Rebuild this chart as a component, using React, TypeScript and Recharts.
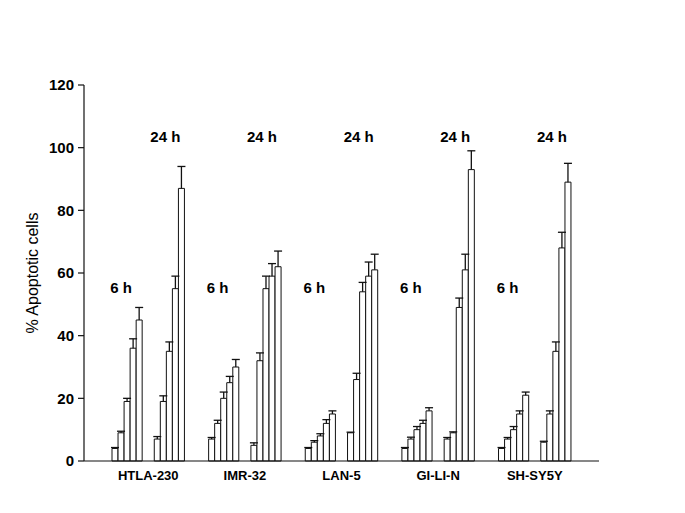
import { BarChart, Bar, XAxis, YAxis, ReferenceDot } from 'recharts';

const cellLines = ['HTLA-230', 'IMR-32', 'LAN-5', 'GI-LI-N', 'SH-SY5Y'];

// % apoptotic cells, 5 doses per time point
const apoptosis6h = [
  [4, 9, 19, 36, 45],
  [7, 12, 20, 25, 30],
  [4, 6, 8, 12, 15],
  [4, 7, 10, 12, 16],
  [4, 7, 10, 15, 21],
];
const sem6h = [
  [0.3, 0.5, 1, 3, 4],
  [0.5, 1, 2, 2, 2.4],
  [0.3, 0.5, 0.7, 1.2, 1],
  [0.3, 0.6, 1, 1, 1],
  [0.3, 0.5, 1, 1, 1],
];
const apoptosis24h = [
  [7, 19, 35, 55, 87],
  [5, 32, 55, 59, 62],
  [9, 26, 54, 59, 61],
  [7, 9, 49, 61, 93],
  [6, 15, 35, 68, 89],
];
const sem24h = [
  [0.8, 1.8, 3, 4, 7],
  [0.8, 2.5, 4, 4, 5],
  [0.2, 2, 3, 4.5, 5],
  [0.5, 0.3, 3, 5, 6],
  [0.3, 1, 3, 5, 6],
];

const yTicks = [0, 20, 40, 60, 80, 100, 120];
const label6h = '6 h';
const label24h = '24 h';

const GROUP_GAP = 2;
const LINE_GAP = 4;
const FONT = 'Liberation Sans, Arial, sans-serif';

type Slot = { slot: string; value?: number; err?: number };

const slots: Slot[] = [];
const tickLabels: Record<string, string> = {};
cellLines.forEach((line, i) => {
  apoptosis6h[i].forEach((v, k) =>
    slots.push({ slot: `${line}-6h-${k}`, value: v, err: sem6h[i][k] })
  );
  for (let g = 0; g < GROUP_GAP; g++) slots.push({ slot: `${line}-gap-${g}` });
  tickLabels[`${line}-gap-0`] = line;
  apoptosis24h[i].forEach((v, k) =>
    slots.push({ slot: `${line}-24h-${k}`, value: v, err: sem24h[i][k] })
  );
  if (i < cellLines.length - 1)
    for (let g = 0; g < LINE_GAP; g++) slots.push({ slot: `${line}-sep-${g}` });
});

function LineTick(props: any) {
  const { x, y, payload } = props;
  const text = tickLabels[payload.value];
  if (!text) return null;
  return (
    <text
      x={x + (payload.offset ?? 3)}
      y={y + 17}
      textAnchor="middle"
      fontFamily={FONT}
      fontWeight="bold"
      fontSize={13}
      fill="#000"
    >
      {text}
    </text>
  );
}

// upper half of the error bar, stacked on top of the mean
function UpperError(props: any) {
  const { x, y, width, height } = props;
  if (!height || height <= 0 || !isFinite(y)) return null;
  const cx = x + width / 2;
  return (
    <g stroke="#111" strokeWidth={1.3}>
      <line x1={cx} y1={y + height} x2={cx} y2={y} />
      <line x1={cx - 4} y1={y} x2={cx + 4} y2={y} />
    </g>
  );
}

const timeLabelStyle = {
  fontFamily: FONT,
  fontWeight: 'bold' as const,
  fontSize: 15,
  fill: '#000',
};

export default function App() {
  return (
    <div style={{ width: 670, height: 500, background: '#fff' }}>
      <BarChart
        width={670}
        height={500}
        data={slots}
        margin={{ top: 77, right: 79, bottom: 17, left: 16 }}
        barCategoryGap={0}
        barGap={0}
      >
        <XAxis
          dataKey="slot"
          type="category"
          interval={0}
          tickLine={false}
          tickSize={0}
          height={30}
          padding={{ left: 28, right: 28 }}
          axisLine={{ stroke: '#111', strokeWidth: 1.2 }}
          tick={<LineTick />}
        />
        <YAxis
          domain={[0, 120]}
          ticks={yTicks}
          width={60}
          tickSize={6}
          tickMargin={4}
          axisLine={{ stroke: '#111', strokeWidth: 1.2 }}
          tickLine={{ stroke: '#111', strokeWidth: 1.2 }}
          tick={{ fontFamily: FONT, fontWeight: 'bold', fontSize: 15, fill: '#000' }}
          label={{
            value: '% Apoptotic cells',
            angle: -90,
            position: 'insideLeft',
            offset: 8,
            style: { textAnchor: 'middle', fontFamily: FONT, fontSize: 16, fill: '#000' },
          }}
        />
        <Bar
          dataKey="value"
          stackId="a"
          fill="#fff"
          stroke="#111"
          strokeWidth={1}
          isAnimationActive={false}
        />
        <Bar
          dataKey="err"
          stackId="a"
          shape={<UpperError />}
          isAnimationActive={false}
        />
        {cellLines.map((line) => (
          <ReferenceDot
            key={`${line}-6`}
            x={`${line}-6h-1`}
            y={55.2}
            r={0}
            fill="none"
            stroke="none"
            label={{ value: label6h, position: 'center', ...timeLabelStyle }}
          />
        ))}
        {cellLines.map((line) => (
          <ReferenceDot
            key={`${line}-24`}
            x={`${line}-24h-2`}
            y={103.4}
            r={0}
            fill="none"
            stroke="none"
            label={{ value: label24h, position: 'center', dx: -4, ...timeLabelStyle }}
          />
        ))}
      </BarChart>
    </div>
  );
}
